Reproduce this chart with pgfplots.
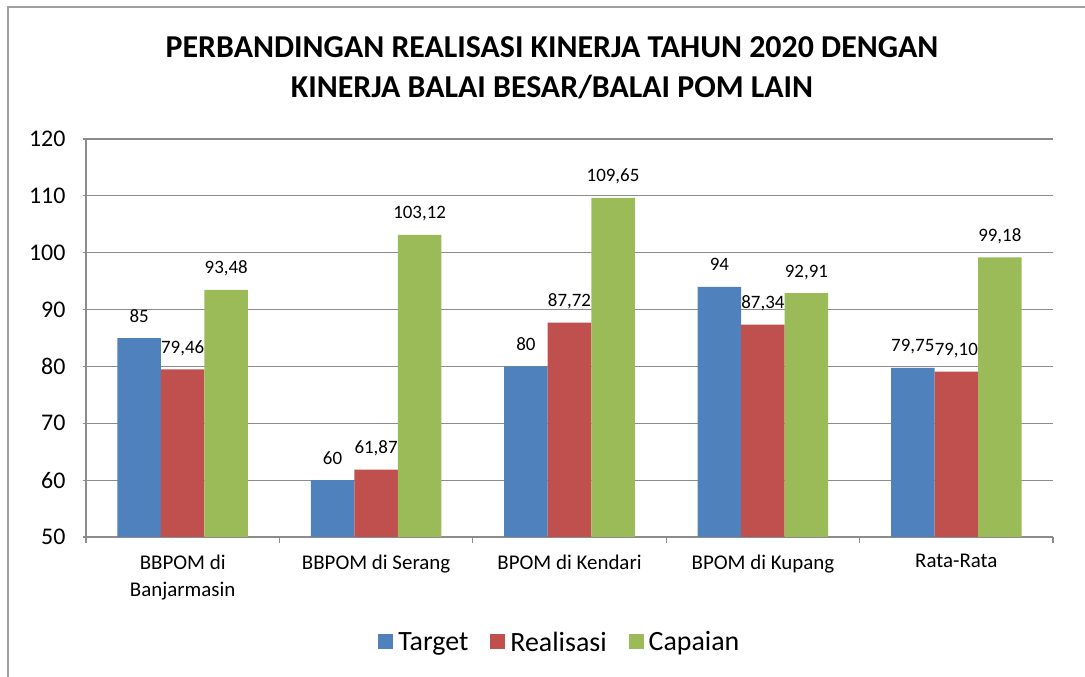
\documentclass[border=0pt]{standalone}
\usepackage{fontspec}
\setmainfont{Carlito}
\usepackage{pgfplots}
\pgfplotsset{compat=1.18}
\definecolor{cblue}{HTML}{4F81BD}
\definecolor{cred}{HTML}{C0504D}
\definecolor{cgreen}{HTML}{9BBB59}
\definecolor{gridgray}{HTML}{8C8C8C}
\definecolor{framegray}{HTML}{A0A0A0}
\begin{document}
\begin{tikzpicture}
\path[use as bounding box] (0,0) rectangle (1085bp,677bp);
\draw[color=framegray, line width=2bp] (8bp,0) -- (8bp,670bp) -- (1085bp,670bp);
\node[font=\bfseries\fontsize{32}{40}\selectfont, align=center] at (552bp,609bp)
  {PERBANDINGAN REALISASI KINERJA TAHUN 2020 DENGAN\\KINERJA BALAI BESAR/BALAI POM LAIN};
\begin{axis}[
  at={(86bp,140bp)}, anchor=south west,
  scale only axis, width=967bp, height=398bp,
  ymin=50, ymax=120, ytick={50,60,...,120},
  xmin=-0.5, xmax=4.5,
  xtick={0,1,2,3,4},
  xticklabels={{BBPOM di\\Banjarmasin},{BBPOM di Serang},{BPOM di Kendari},{BPOM di Kupang},{Rata-Rata}},
  minor xtick={-0.5,0.5,1.5,2.5,3.5,4.5},
  major x tick style={draw=none},
  tick align=outside, major tick length=6bp, minor tick length=6bp,
  axis x line=bottom, axis y line=left,
  axis line style={gridgray, line width=1.2bp, -},
  every tick/.style={gridgray, line width=1.2bp},
  ymajorgrids, grid style={gridgray, line width=1.2bp},
  xticklabel style={align=center, font=\fontsize{21}{28}\selectfont, text=black, yshift=-8bp},
  yticklabel style={font=\fontsize{24}{27}\selectfont, text=black, xshift=-14bp},
  /pgf/number format/assume math mode=true,
  ybar=0pt, bar width=0.225,
  point meta=explicit symbolic,
  nodes near coords={\pgfplotspointmeta},
  every node near coord/.append style={font=\fontsize{19}{20}\selectfont, text=black, anchor=base, inner sep=0pt, yshift=16bp},
  every axis plot/.append style={draw=none, legend image code/.code={\fill[##1] (0bp,-7bp) rectangle (15bp,8bp);}},
  legend columns=3,
  legend style={draw=none, fill=none, at={(0.49,-0.264)}, anchor=center,
    font=\fontsize{28}{30}\selectfont,
    /tikz/every odd column/.append style={column sep=3bp},
    /tikz/every even column/.append style={column sep=20bp}},
]
\addplot[fill=cblue, bar shift=-0.225] coordinates {(0,85) [85] (1,60) [60] (2,80) [80] (3,94) [94] (4,79.75) [{79,75}]};
\addplot[fill=cred, bar shift=0] coordinates {(0,79.46) [{79,46}] (1,61.87) [{61,87}] (2,87.72) [{87,72}] (3,87.34) [{87,34}] (4,79.10) [{79,10}]};
\addplot[fill=cgreen, bar shift=0.225] coordinates {(0,93.48) [{93,48}] (1,103.12) [{103,12}] (2,109.65) [{109,65}] (3,92.91) [{92,91}] (4,99.18) [{99,18}]};
\legend{Target,Realisasi,Capaian}
\end{axis}
\end{tikzpicture}
\end{document}
